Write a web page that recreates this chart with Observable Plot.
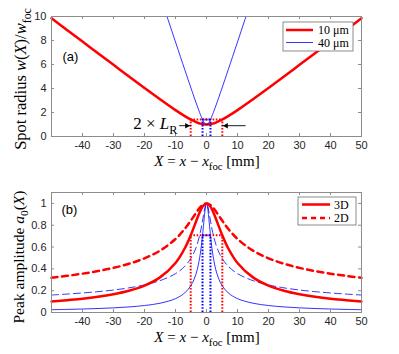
<!DOCTYPE html>
<html><head><meta charset="utf-8">
<script src="https://cdn.jsdelivr.net/npm/d3@7"></script>
<script src="https://cdn.jsdelivr.net/npm/@observablehq/plot@0.6"></script>
<style>
html,body{margin:0;padding:0;background:#fff;}
#chart{position:relative;width:399px;height:354px;overflow:hidden;}
#chart svg{position:absolute;left:0;}
</style></head><body><div id="chart"></div>
<script>
// ---- data ----
const redX = [-50,-45,-40,-35,-30,-25,-20,-15,-10,-7,-5,-3,-2,-1,0,1,2,3,5,7,10,15,20,25,30,35,40,45,50];
const redW = [9.86,8.88,7.91,6.94,5.97,5.00,4.05,3.11,2.20,1.70,1.40,1.16,1.07,1.02,1.00,1.02,1.07,1.16,1.40,1.70,2.20,3.11,4.05,5.00,5.97,6.94,7.91,8.88,9.86];
const red3D = [0.101,0.113,0.126,0.144,0.168,0.200,0.247,0.322,0.454,0.589,0.714,0.862,0.931,0.981,1,0.981,0.931,0.862,0.714,0.589,0.454,0.322,0.247,0.200,0.168,0.144,0.126,0.113,0.101];
const red2D = [0.318,0.336,0.356,0.380,0.409,0.447,0.497,0.567,0.674,0.767,0.845,0.928,0.965,0.990,1,0.990,0.965,0.928,0.845,0.767,0.674,0.567,0.497,0.447,0.409,0.380,0.356,0.336,0.318];

const blueX = [-50,-45,-40,-35,-30,-25,-20,-15,-10,-7,-5,-4,-3,-2,-1.5,-1,-0.75,-0.5,-0.25,0,0.25,0.5,0.75,1,1.5,2,3,4,5,7,10,15,20,25,30,35,40,45,50];
const blueW = [39.07,35.17,31.27,27.36,23.46,19.56,15.66,11.76,7.876,5.559,4.032,3.281,2.548,1.855,1.541,1.269,1.159,1.074,1.019,1,1.019,1.074,1.159,1.269,1.541,1.855,2.548,3.281,4.032,5.559,7.876,11.76,15.66,19.56,23.46,27.36,31.27,35.17,39.07];
const blue3D = [0.0256,0.0284,0.0320,0.0365,0.0426,0.0511,0.0639,0.085,0.127,0.180,0.248,0.305,0.392,0.539,0.649,0.788,0.863,0.931,0.981,1,0.981,0.931,0.863,0.788,0.649,0.539,0.392,0.305,0.248,0.180,0.127,0.085,0.0639,0.0511,0.0426,0.0365,0.0320,0.0284,0.0256];
const blue2D = [0.160,0.169,0.179,0.191,0.206,0.226,0.253,0.292,0.356,0.424,0.498,0.552,0.626,0.734,0.806,0.888,0.929,0.965,0.990,1,0.990,0.965,0.929,0.888,0.806,0.734,0.626,0.552,0.498,0.424,0.356,0.292,0.253,0.226,0.206,0.191,0.179,0.169,0.160];

// Rayleigh-length markers
const redLR = [-5.1, 5.1];
const blueLR = [-1.28, 1.28];
const topLevel = 1.414;     // sqrt(2) in panel (a)
const botLevel = 0.707;     // 1/sqrt(2) in panel (b)

// arrows in panel (a)
const arrows = [
  {x1: -8.8, x2: -5.1, y: 0.9, dir: 90},
  {x1: 12.6, x2: 5.1, y: 0.9, dir: -90}
];
const arrowTextX = -9.2;

// ticks
const xTickVals = [-50,-40,-30,-20,-10,0,10,20,30,40,50];
const xLabelVals = [-40,-30,-20,-10,0,10,20,30,40,50];
const yTopTicks = [0,2,4,6,8,10];
const yBotTicks = [0,0.2,0.4,0.6,0.8,1];

const legendTop = ["10 μm", "40 μm"];
const legendBot = ["3D", "2D"];

// ---- layout ----
const W = 399, H = 177, mL = 51, mR = 38;
const plotW = W - mL - mR;
const frameColor = "#8c8c8c";
const tickColor = "#262626";
const serif = "'Liberation Serif','Times New Roman',serif";
const sans = "'Liberation Sans',Arial,Helvetica,sans-serif";
const RED = "#ff0000", BLUE = "#0000ff";

const tbl = (xs, ys) => xs.map((x, i) => ({x, y: ys[i]}));

function frameMarks(yTicks, plotH) {
  return [
    Plot.tickX(xTickVals, {insetTop: plotH - 3, stroke: frameColor}),
    Plot.tickX(xTickVals, {insetBottom: plotH - 3, stroke: frameColor}),
    Plot.tickY(yTicks, {insetRight: plotW - 3, stroke: frameColor}),
    Plot.tickY(yTicks, {insetLeft: plotW - 3, stroke: frameColor}),
    Plot.frame({stroke: frameColor, strokeWidth: 1}),
    Plot.axisX(xLabelVals, {tickSize: 0, tickPadding: 5, tickFormat: d => String(d), fill: tickColor, label: null}),
    Plot.axisY(yTicks, {tickSize: 0, tickPadding: 5, tickFormat: d => String(d), fill: tickColor, label: null})
  ];
}

function mathText(svg, parts, {x, y, size, anchor = "middle", rotate = 0}) {
  const t = d3.select(svg).append("text")
    .attr("transform", `translate(${x},${y}) rotate(${rotate})`)
    .attr("text-anchor", anchor)
    .attr("fill", "#000")
    .style("font-family", serif)
    .style("font-size", size + "px");
  let shifted = false;
  for (const p of parts) {
    const ts = t.append("tspan").text(p.t);
    if (p.i) ts.style("font-style", "italic");
    if (p.sub) {
      ts.style("font-size", (size * 0.72) + "px").attr("dy", size * 0.28);
      shifted = true;
    } else if (shifted) {
      ts.attr("dy", -size * 0.28);
      shifted = false;
    }
  }
  return t;
}

function legend(svg, items, {x, y, w, h, rowY, lineX1, lineX2, textX, size}) {
  const g = d3.select(svg).append("g").attr("text-anchor", "start");
  g.append("rect").attr("x", x).attr("y", y).attr("width", w).attr("height", h)
    .attr("fill", "#fff").attr("stroke", "#6e6e6e").attr("stroke-width", 0.8);
  items.forEach((it, i) => {
    g.append("line").attr("x1", lineX1).attr("x2", lineX2).attr("y1", rowY[i]).attr("y2", rowY[i])
      .attr("stroke", it.color).attr("stroke-width", it.width).attr("stroke-dasharray", it.dash || null);
    g.append("text").attr("x", textX).attr("y", rowY[i]).attr("dy", "0.35em")
      .attr("text-anchor", "start")
      .style("font-family", serif).style("font-size", size + "px").attr("fill", "#000")
      .text(it.label);
  });
}

// ---- panel (a) ----
const topPlot = Plot.plot({
  width: W, height: H,
  marginLeft: mL, marginRight: mR, marginTop: 16, marginBottom: 41,
  x: {domain: [-50, 50], label: null},
  y: {domain: [0, 10], label: null},
  style: {fontFamily: sans, fontSize: "11px", background: "#fff", overflow: "visible"},
  marks: [
    Plot.line(tbl(redX, redW), {x: "x", y: "y", stroke: RED, strokeWidth: 2.5, curve: "catmull-rom"}),
    Plot.line(tbl(blueX, blueW), {x: "x", y: "y", stroke: BLUE, strokeWidth: 0.8, curve: "catmull-rom", clip: true}),
    Plot.ruleX(redLR, {y1: 0, y2: topLevel, stroke: RED, strokeWidth: 2, strokeDasharray: "1.6 1.6"}),
    Plot.ruleY([topLevel], {x1: redLR[0], x2: redLR[1], stroke: RED, strokeWidth: 2, strokeDasharray: "1.6 1.6"}),
    Plot.ruleX(blueLR, {y1: 0, y2: topLevel, stroke: BLUE, strokeWidth: 2, strokeDasharray: "1.6 1.6"}),
    Plot.ruleY([topLevel], {x1: blueLR[0], x2: blueLR[1], stroke: BLUE, strokeWidth: 2, strokeDasharray: "1.6 1.6"}),
    Plot.link(arrows, {x1: "x1", x2: "x2", y1: "y", y2: "y", stroke: "#000", strokeWidth: 0.9}),
    Plot.dot(arrows.filter(a => a.dir > 0), {x: "x2", y: "y", symbol: "triangle2", r: 2.6, rotate: 90, dx: -3.9, fill: "#000", stroke: "none"}),
    Plot.dot(arrows.filter(a => a.dir < 0), {x: "x2", y: "y", symbol: "triangle2", r: 2.6, rotate: -90, dx: 3.9, fill: "#000", stroke: "none"}),
    Plot.text(["(a)"], {frameAnchor: "top-left", dx: 11, dy: 35, textAnchor: "start", fontSize: 13, fontFamily: sans, fill: "#000"}),
    ...frameMarks(yTopTicks, 120)
  ]
});

// ---- panel (b) ----
const botPlot = Plot.plot({
  width: W, height: H,
  marginLeft: mL, marginRight: mR, marginTop: 15, marginBottom: 42,
  x: {domain: [-50, 50], label: null},
  y: {domain: [0, 1.1], label: null},
  style: {fontFamily: sans, fontSize: "11px", background: "#fff", overflow: "visible"},
  marks: [
    Plot.line(tbl(blueX, blue2D), {x: "x", y: "y", stroke: BLUE, strokeWidth: 0.8, strokeDasharray: "7 4", curve: "catmull-rom"}),
    Plot.line(tbl(blueX, blue3D), {x: "x", y: "y", stroke: BLUE, strokeWidth: 0.8, curve: "catmull-rom"}),
    Plot.line(tbl(redX, red2D), {x: "x", y: "y", stroke: RED, strokeWidth: 2.5, strokeDasharray: "6 4.5", curve: "catmull-rom"}),
    Plot.line(tbl(redX, red3D), {x: "x", y: "y", stroke: RED, strokeWidth: 2.5, curve: "catmull-rom"}),
    Plot.ruleX(redLR, {y1: 0, y2: botLevel, stroke: RED, strokeWidth: 2, strokeDasharray: "1.6 1.6"}),
    Plot.ruleY([botLevel], {x1: redLR[0], x2: redLR[1], stroke: RED, strokeWidth: 2, strokeDasharray: "1.6 1.6"}),
    Plot.ruleX(blueLR, {y1: 0, y2: botLevel, stroke: BLUE, strokeWidth: 2, strokeDasharray: "1.6 1.6"}),
    Plot.ruleY([botLevel], {x1: blueLR[0], x2: blueLR[1], stroke: BLUE, strokeWidth: 2, strokeDasharray: "1.6 1.6"}),
    Plot.text(["(b)"], {frameAnchor: "top-left", dx: 10, dy: 12, textAnchor: "start", fontSize: 13, fontFamily: sans, fill: "#000"}),
    ...frameMarks(yBotTicks, 120)
  ]
});

const chart = document.getElementById("chart");
topPlot.style.top = "0px";
botPlot.style.top = H + "px";
chart.appendChild(topPlot);
chart.appendChild(botPlot);

// ---- math labels ----
const xs = topPlot.scale("x"), ysTop = topPlot.scale("y");
mathText(topPlot, [{t: "Spot radius "}, {t: "w", i: 1}, {t: "("}, {t: "X", i: 1}, {t: ")/"}, {t: "w", i: 1}, {t: "foc", sub: 1}],
  {x: 26, y: 79, size: 16.5, rotate: -90});
mathText(botPlot, [{t: "Peak amplitude "}, {t: "a", i: 1}, {t: "0", sub: 1}, {t: "("}, {t: "X", i: 1}, {t: ")"}],
  {x: 24, y: 80, size: 15.5, rotate: -90});
const xlabel = [{t: "X", i: 1}, {t: " = "}, {t: "x", i: 1}, {t: " − "}, {t: "x", i: 1}, {t: "foc", sub: 1}, {t: " [mm]"}];
mathText(topPlot, xlabel, {x: xs.apply(0) + 1, y: 166, size: 15});
mathText(botPlot, xlabel, {x: xs.apply(0) + 1, y: 165, size: 15});
mathText(topPlot, [{t: "2 × "}, {t: "L", i: 1}, {t: "R", sub: 1}],
  {x: xs.apply(arrowTextX), y: ysTop.apply(arrows[0].y) + 4, size: 17, anchor: "end"});

// ---- legends ----
legend(topPlot, [
  {color: RED, width: 2.5, label: legendTop[0]},
  {color: BLUE, width: 0.8, label: legendTop[1]}
], {x: 283, y: 22, w: 70, h: 29, rowY: [30, 42.5], lineX1: 286, lineX2: 313, textX: 318, size: 12});
legend(botPlot, [
  {color: RED, width: 2.5, label: legendBot[0]},
  {color: RED, width: 2.5, dash: "5 4", label: legendBot[1]}
], {x: 298, y: 20, w: 58, h: 28, rowY: [27.5, 41], lineX1: 302, lineX2: 330, textX: 334, size: 12});
</script></body></html>
